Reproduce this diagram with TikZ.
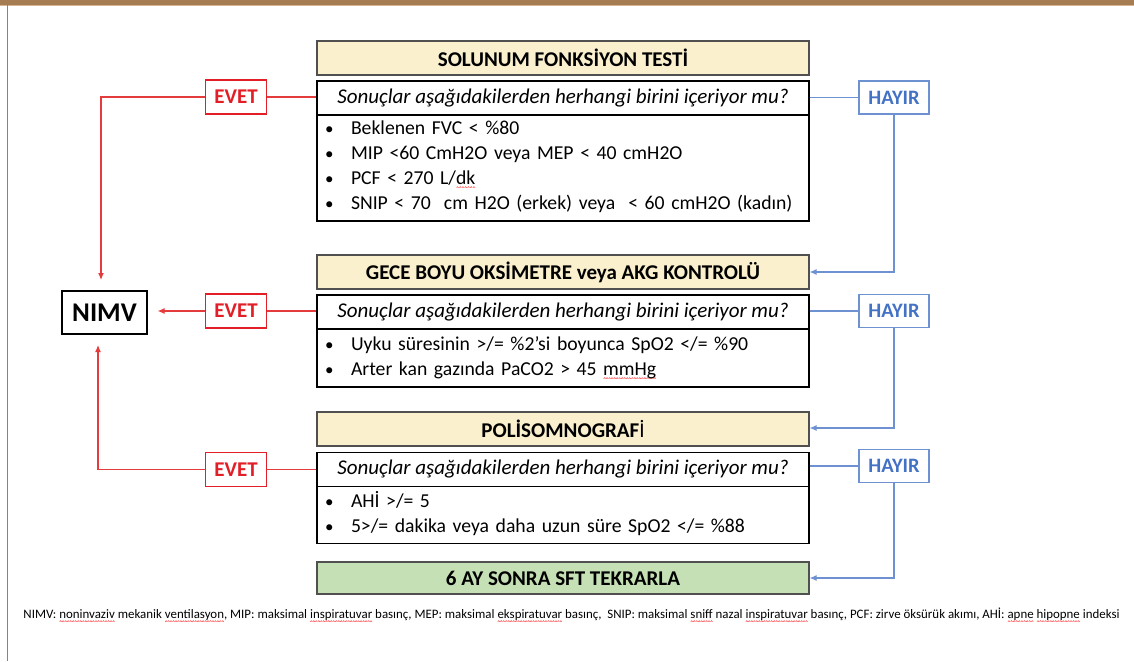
\documentclass[tikz,border=0pt]{standalone}
\usepackage{fontspec}
\setmainfont{Carlito}
\usetikzlibrary{arrows.meta}
\definecolor{beige}{RGB}{250,240,206}
\definecolor{sage}{RGB}{197,224,180}
\definecolor{evred}{RGB}{226,30,38}
\definecolor{lred}{RGB}{228,60,60}
\definecolor{hblue}{RGB}{68,114,196}
\definecolor{lblue}{RGB}{110,145,210}
\definecolor{brownbar}{RGB}{166,124,82}
\definecolor{lbrown}{RGB}{214,180,150}
\definecolor{tgray}{RGB}{80,80,80}
\newsavebox\wavebox
\newsavebox\wordbox
\newcommand\sqw[1]{\sbox\wordbox{#1}\leavevmode\rlap{\raisebox{-3pt}{\xleaders\copy\wavebox\hskip\wd\wordbox}}\usebox\wordbox}
\newcommand\bl{\makebox[26pt][l]{\raisebox{0.5pt}{\fontsize{17}{17}\selectfont•}}}
\begin{document}
\sbox\wavebox{\begin{pgfpicture}\pgfsetlinewidth{0.45pt}\pgfsetstrokecolor{red}\pgfpathmoveto{\pgfpoint{0pt}{0pt}}\pgfpathlineto{\pgfpoint{1pt}{0.8pt}}\pgfpathlineto{\pgfpoint{2pt}{0pt}}\pgfusepath{stroke}\end{pgfpicture}}
\begin{tikzpicture}[x=1pt,y=-1pt,
  ttl/.style={draw=tgray,line width=1.2pt,fill=beige,minimum width=492pt,minimum height=34pt,inner sep=0pt,font=\bfseries\fontsize{21}{24}\selectfont},
  grn/.style={ttl,fill=sage,minimum height=32pt},
  qst/.style={draw=black,line width=1.2pt,fill=white,minimum width=492pt,minimum height=34pt,inner sep=0pt,font=\itshape\fontsize{21}{24}\selectfont},
  lst/.style={draw=black,line width=1.2pt,minimum width=492pt,text width=476pt,inner xsep=8pt,inner ysep=0pt,align=left,font=\fontsize{19.7}{25}\selectfont},
  evet/.style={draw=evred,line width=1.1pt,text=evred,minimum width=61pt,minimum height=34pt,inner sep=0pt,font=\bfseries\fontsize{21}{24}\selectfont},
  hayir/.style={draw=lblue,line width=1.1pt,text=hblue,minimum width=70pt,minimum height=33pt,inner sep=0pt,font=\bfseries\fontsize{20.5}{24}\selectfont},
  rline/.style={draw=lred,line width=1.1pt},
  bline/.style={draw=lblue,line width=1.1pt},
  arr/.style={-{Latex[length=7pt,width=6pt]}}
]
\useasboundingbox (0,0) rectangle (1134,661);
% frame
\fill[brownbar] (0,0) rectangle (1134,5);
\fill[lbrown] (0,5) rectangle (1134,6.5);
\fill[brownbar] (6.5,5) rectangle (8.2,661);

% block 1
\node[ttl] (T1) at (563,58) {SOLUNUM FONKSİYON TESTİ};
\node[lst,minimum height=108pt] (L1) at (563,167) {\bl Beklenen FVC < \%80\\
\bl MIP <60 CmH2O veya MEP < 40 cmH2O\\
\bl PCF < 270 L/\sqw{dk}\\
\bl SNIP < 70 \ cm H2O (erkek) veya \ < 60 cmH2O (kadın)};
\node[qst] (Q1) at (563,98) {Sonuçlar aşağıdakilerden herhangi birini içeriyor mu?};

% block 2
\node[ttl] (T2) at (563,272) {GECE BOYU OKSİMETRE veya AKG KONTROLÜ};
\node[lst,minimum height=58pt] (L2) at (563,358) {\bl Uyku süresinin >/= \%2’si boyunca SpO2 </= \%90\\
\bl Arter kan gazında PaCO2 > 45 \sqw{mmHg}};
\node[qst] (Q2) at (563,312) {Sonuçlar aşağıdakilerden herhangi birini içeriyor mu?};

% block 3
\node[ttl] (T3) at (563,429) {POLİSOMNOGRAF{\mdseries İ}};
\node[lst,minimum height=59pt] (L3) at (563,514) {\bl AHİ >/= 5\\
\bl 5>/= dakika veya daha uzun süre SpO2 </= \%88};
\node[qst] (Q3) at (563,469.5) {Sonuçlar aşağıdakilerden herhangi birini içeriyor mu?};

\node[grn] (G) at (563,578) {6 AY SONRA SFT TEKRARLA};

% NIMV
\node[draw=black,line width=1.2pt,minimum width=85pt,minimum height=43pt,inner sep=0pt,font=\bfseries\fontsize{27}{30}\selectfont] (N) at (104.5,312.5) {NIMV};

% EVET / HAYIR
\node[evet] (E1) at (236,97) {EVET};
\node[evet] (E2) at (236,311) {EVET};
\node[evet] (E3) at (236,469.5) {EVET};
\node[hayir] (H1) at (894,97.5) {HAYIR};
\node[hayir] (H2) at (894,311) {HAYIR};
\node[hayir] (H3) at (894,466) {HAYIR};

\coordinate (n1) at (101,280);
\coordinate (n3) at (98,345);

% red connectors
\draw[rline] (Q1.west |- E1.east) -- (E1.east);
\draw[rline] (Q2.west |- E2.east) -- (E2.east);
\draw[rline] (Q3.west |- E3.east) -- (E3.east);
\draw[rline,arr] (E1.west) -| (n1);
\draw[rline,arr,shorten >=10pt] (E2.west) -- (E2.west -| N.east);
\draw[rline,arr] (E3.west) -| (n3);

% blue connectors
\draw[bline] (Q1.east |- H1.west) -- (H1.west);
\draw[bline] (Q2.east |- H2.west) -- (H2.west);
\draw[bline] (Q3.east |- H3.west) -- (H3.west);
\draw[bline,arr] (H1.south) |- (T2.east);
\draw[bline,arr] (H2.south) |- ([yshift=1pt]T3.east);
\draw[bline,arr] (H3.south) |- (G.east);

% footer
\node[font=\fontsize{12.9}{15}\selectfont,inner sep=0pt] (F) at (571.5,615) {NIMV: \sqw{noninvaziv} mekanik \sqw{ventilasyon}, MIP: maksimal \sqw{inspiratuvar} basınç, MEP: maksimal \sqw{ekspiratuvar} basınç, \ SNIP: maksimal \sqw{sniff} nazal \sqw{inspiratuvar} basınç, PCF: zirve öksürük akımı, AHİ: \sqw{apne} \sqw{hipopne} indeksi};
\end{tikzpicture}
\end{document}
